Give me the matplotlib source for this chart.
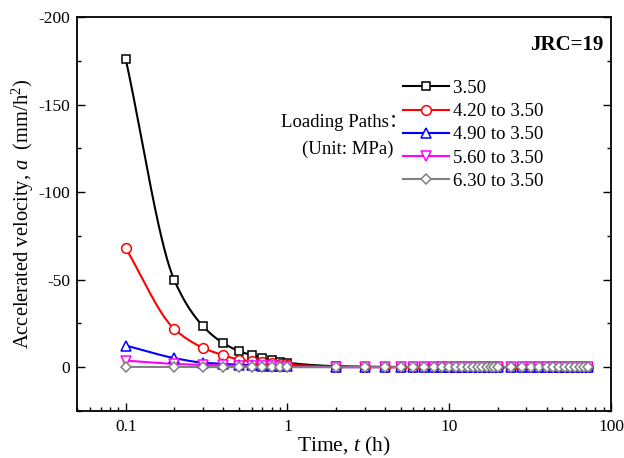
import numpy as np
import matplotlib
matplotlib.use("Agg")
import matplotlib.pyplot as plt
from matplotlib.ticker import LogLocator, NullFormatter, MultipleLocator, FixedLocator

plt.rcParams['font.family'] = ['Liberation Serif', 'DejaVu Serif']
plt.rcParams['mathtext.fontset'] = 'custom'
plt.rcParams['mathtext.rm'] = 'Liberation Serif'
plt.rcParams['mathtext.it'] = 'Liberation Serif:italic'
plt.rcParams['axes.unicode_minus'] = False

# ---- data ----
time_h = [0.1, 0.2, 0.3, 0.4, 0.5, 0.6, 0.7, 0.8, 0.9, 1.0] + \
         list(range(2, 21)) + list(range(24, 73, 4))
n_tail = len(time_h) - 10

acc_350 = [-176.0, -49.6, -23.5, -13.8, -9.3, -6.9, -5.2, -4.0, -3.2, -2.5] + [-0.6, -0.3, -0.2] + [-0.1] * (n_tail - 3)
acc_420 = [-68.0, -21.8, -11.1, -6.9, -4.4, -3.4, -2.8, -2.2, -1.8, -1.5] + [-0.3, -0.15] + [-0.05] * (n_tail - 2)
acc_490 = [-12.4, -5.2, -2.6, -1.9, -1.4, -1.1, -0.9, -0.8, -0.7, -0.6] + [-0.1] * n_tail
acc_560 = [-3.8, -1.9, -1.3, -1.0, -0.8, -0.6, -0.5, -0.5, -0.4, -0.4] + [-0.05] * n_tail
acc_630 = [-0.2, -0.1, -0.1, -0.1, 0.0, 0.0, 0.0, 0.0, 0.0, 0.0] + [0.0] * n_tail

series_labels = ["3.50", "4.20 to 3.50", "4.90 to 3.50", "5.60 to 3.50", "6.30 to 3.50"]
series_values = [acc_350, acc_420, acc_490, acc_560, acc_630]
colors = ["black", "red", "blue", "magenta", "gray"]
markers = ["s", "o", "^", "v", "D"]
msizes = [6, 7, 7, 7, 5.5]

y_ticks = [-200, -150, -100, -50, 0]
x_ticks = [0.1, 1, 10, 100]
x_ticklabels = ["0.1", "1", "10", "100"]


def pchip(x, y, xn):
    x = np.asarray(x, float); y = np.asarray(y, float)
    h = np.diff(x); d = np.diff(y) / h
    m = np.zeros_like(y)
    for k in range(1, len(x) - 1):
        if d[k - 1] * d[k] > 0:
            w1 = 2 * h[k] + h[k - 1]; w2 = h[k] + 2 * h[k - 1]
            m[k] = (w1 + w2) / (w1 / d[k - 1] + w2 / d[k])
    m[0] = d[0]; m[-1] = d[-1]
    idx = np.clip(np.searchsorted(x, xn) - 1, 0, len(x) - 2)
    t = (xn - x[idx]) / h[idx]
    h00 = 2 * t**3 - 3 * t**2 + 1; h10 = t**3 - 2 * t**2 + t
    h01 = -2 * t**3 + 3 * t**2; h11 = t**3 - t**2
    return h00 * y[idx] + h10 * h[idx] * m[idx] + h01 * y[idx + 1] + h11 * h[idx] * m[idx + 1]


fig = plt.figure(figsize=(6.24, 4.58), dpi=100)
ax = fig.add_axes([77 / 624, 1 - 411 / 458, (611 - 77) / 624, (411 - 17) / 458])

lx = np.log10(time_h)
xs = np.linspace(lx[0], lx[-1], 800)
handles = []
for vals, lab, c, mk, ms in zip(series_values, series_labels, colors, markers, msizes):
    ys = pchip(lx, vals, xs)
    ax.plot(10 ** xs, ys, color=c, lw=1.5, zorder=2)
    ax.plot(time_h, vals, ls='none', marker=mk, ms=ms, mfc='white', mec=c, mew=1.1, zorder=3)
    h, = ax.plot([], [], color=c, lw=1.5, marker=mk, ms=ms, mfc='white', mec=c, mew=1.1, label=lab)
    handles.append(h)

ax.set_xscale('log')
ax.set_xlim(0.05, 100)
ax.set_ylim(25, -200)
ax.xaxis.set_major_locator(FixedLocator(x_ticks))
ax.set_xticklabels(x_ticklabels)
ax.xaxis.set_minor_locator(LogLocator(base=10, subs=np.arange(2, 10)))
ax.xaxis.set_minor_formatter(NullFormatter())
ax.set_yticks(y_ticks)
ax.yaxis.set_minor_locator(MultipleLocator(25))

ax.tick_params(which='both', direction='in', top=False, right=True, labelsize=12.5)
ax.tick_params(which='major', length=6, width=1.0)
ax.tick_params(which='minor', length=3, width=1.0)
ax.tick_params(axis='x', pad=6)
ax.tick_params(axis='y', pad=5)
for s in ax.spines.values():
    s.set_linewidth(1.3)

ax.set_xlabel("Time, $\\mathit{t}$ (h)", fontsize=15.5, labelpad=0)
ax.set_ylabel("Accelerated velocity, $\\mathit{a}$  (mm/h$^2$)", fontsize=14.8, labelpad=2)

ax.text(0.985, 0.955, "JRC=19", transform=ax.transAxes, ha='right', va='top',
        fontsize=15, fontweight='bold')

leg = ax.legend(handles=handles, loc='upper left', bbox_to_anchor=(0.597, 0.86),
                frameon=False, fontsize=13.6, handlelength=2.4, handletextpad=0.25,
                labelspacing=0.32, borderaxespad=0)

ax.text(0.620, 0.731, "Loading Paths\uff1a", transform=ax.transAxes, ha='right', va='center',
        fontsize=13.5, family=['Liberation Serif', 'Noto Sans CJK SC'])
ax.text(0.592, 0.665, "(Unit: MPa)", transform=ax.transAxes, ha='right', va='center',
        fontsize=13.5)

fig.savefig("out.png", dpi=100)
